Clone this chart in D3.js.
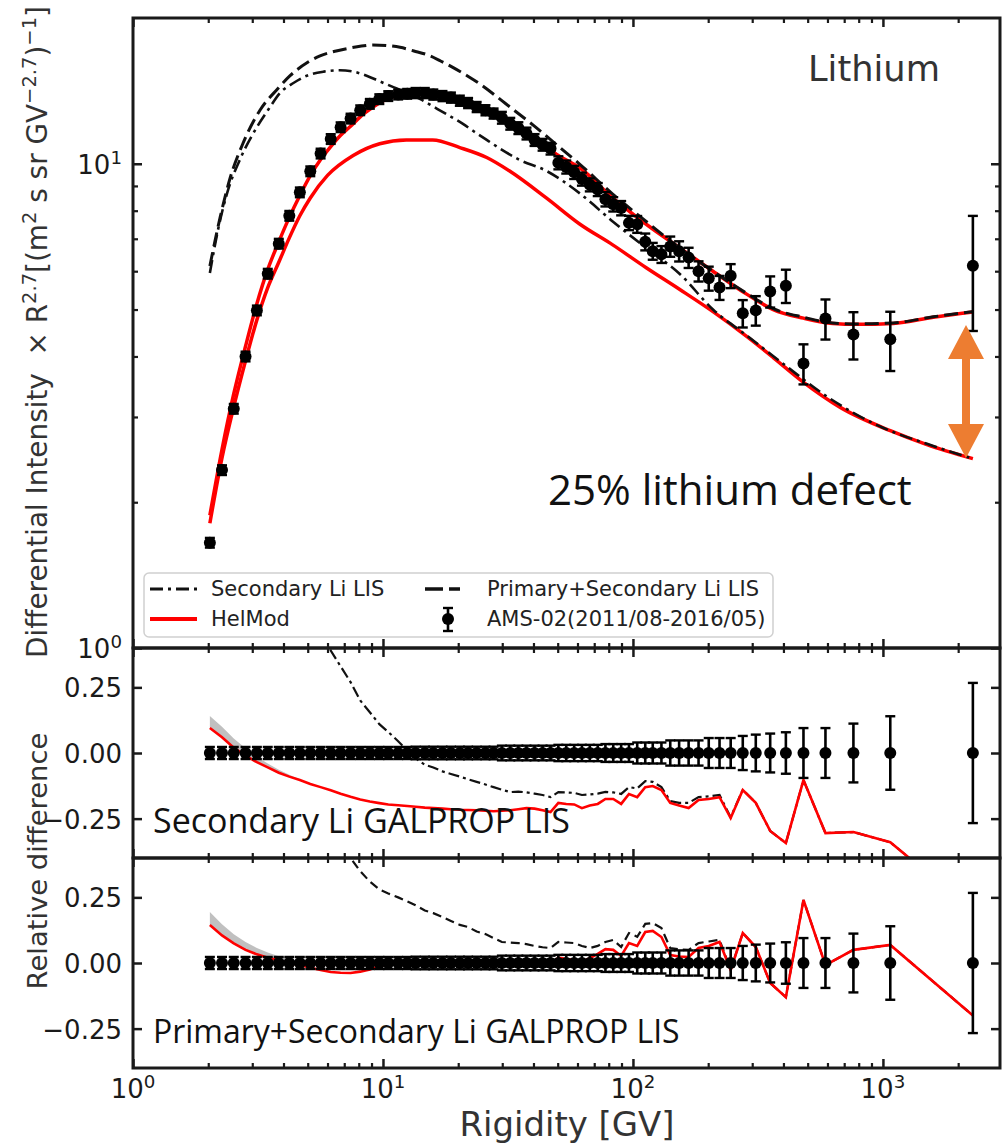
<!DOCTYPE html>
<html>
<head>
<meta charset="utf-8">
<script src="https://cdn.jsdelivr.net/npm/d3@7"></script>
<style>
  body { margin: 0; background: #fff; }
  svg { display: block; }
</style>
</head>
<body>
<svg width="1002" height="1145"></svg>
<script>
// ---- AMS-02 lithium data (bin centres, GV) ----
var rigidity = [2.03, 2.27, 2.53, 2.82, 3.13, 3.46, 3.83, 4.22, 4.65, 5.12,
  5.63, 6.18, 6.77, 7.42, 8.11, 8.86, 9.67, 10.5, 11.5, 12.5,
  13.5, 14.7, 15.9, 17.3, 18.7, 20.3, 21.9, 23.7, 25.7, 27.7,
  29.9, 32.3, 34.8, 37.5, 40.4, 43.5, 46.8, 50.3, 54.1, 58.2,
  62.5, 67.2, 72.3, 77.6, 83.4, 89.7, 96.4, 104, 112, 120,
  130, 141, 153, 167, 183, 201, 222, 246, 275, 310,
  354, 409, 481, 589, 762, 1070, 2290];
var flux = [1.65, 2.33, 3.12, 4.0, 4.98, 5.93, 6.84, 7.81, 8.73, 9.65,
  10.5, 11.25, 11.9, 12.4, 12.9, 13.3, 13.6, 13.8, 13.9, 13.95,
  14.0, 14.0, 13.9, 13.8, 13.7, 13.5, 13.35, 13.1, 12.9, 12.7,
  12.45, 12.1, 11.85, 11.55, 11.2, 10.95, 10.75, 10.05, 9.85, 9.6,
  9.3, 9.05, 8.85, 8.45, 8.25, 8.1, 7.55, 7.5, 6.9, 6.6,
  6.5, 6.75, 6.6, 6.4, 6.0, 5.8, 5.55, 5.87, 4.91, 4.98,
  5.45, 5.6, 3.87, 4.79, 4.44, 4.34, 6.16];
// relative errors
var fluxErr = [0.023, 0.023, 0.023, 0.023, 0.023, 0.023, 0.023, 0.023, 0.023, 0.023,
  0.023, 0.023, 0.023, 0.023, 0.023, 0.023, 0.023, 0.023, 0.023, 0.023,
  0.024, 0.024, 0.024, 0.024, 0.024, 0.024, 0.024, 0.024, 0.024, 0.024,
  0.028, 0.028, 0.028, 0.028, 0.028, 0.028, 0.028, 0.031, 0.031, 0.031,
  0.031, 0.031, 0.031, 0.034, 0.034, 0.034, 0.034, 0.04, 0.04, 0.04,
  0.04, 0.048, 0.048, 0.048, 0.048, 0.057, 0.057, 0.057, 0.065, 0.07,
  0.074, 0.079, 0.095, 0.095, 0.112, 0.14, 0.267];

// ---- model curves, top panel ----
var secLisR = [2.03, 2.2, 2.38, 2.7, 3.13, 3.5, 3.87, 4.4, 4.96, 5.8, 6.7, 7.6, 8.6, 9.7, 11, 12.5,
  14.1, 16, 18, 20.3, 22.9, 26, 29.4, 35, 45, 61.4, 83, 113, 154, 209, 285, 400, 600, 1000, 1500, 2290];
var secLis = [5.95, 7.4, 8.7, 10.3, 11.9, 13.0, 14.0, 14.7, 15.2, 15.5, 15.6, 15.5, 15.2, 14.8, 14.4, 14.0,
  13.6, 13.1, 12.65, 12.2, 11.7, 11.2, 10.75, 10.2, 9.67, 8.68, 7.6, 6.7, 5.92, 5.0, 4.42, 3.86, 3.3, 2.85, 2.64, 2.46];

var totLisR = [2.03, 2.23, 2.44, 2.75, 3.22, 3.8, 4.25, 5.0, 5.6, 6.5, 7.2, 8.2, 9.1, 10.3, 11.7, 13.3,
  15, 17, 19.1, 21.7, 24.5, 31, 40, 50, 61, 83, 113, 154, 209, 285, 364, 481, 630, 790, 1100, 1590, 2290];
var totLis = [6.15, 7.74, 9.3, 11.0, 12.9, 14.3, 15.2, 16.2, 16.7, 17.1, 17.3, 17.5, 17.6, 17.55, 17.4, 17.1,
  16.8, 16.3, 15.8, 15.2, 14.6, 13.3, 12.0, 10.9, 10.0, 8.66, 7.6, 6.7, 6.0, 5.4, 5.02, 4.82, 4.69, 4.67, 4.69, 4.83, 4.95];

var helSecR = [2.03, 2.27, 2.53, 2.82, 3.13, 3.46, 3.83, 4.22, 4.65, 5.12, 6.0, 7.6, 9.7, 12.4, 15.8, 20.3,
  26, 32, 45, 61.4, 83, 113, 154, 209, 285, 364, 477, 675, 1070, 1500, 2290];
var helSec = [1.81, 2.47, 3.15, 3.92, 4.76, 5.55, 6.26, 7.03, 7.81, 8.5, 9.46, 10.4, 11.0, 11.2, 11.2, 10.8,
  10.3, 9.67, 8.5, 7.5, 6.8, 6.1, 5.5, 4.95, 4.4, 3.98, 3.55, 3.14, 2.81, 2.63, 2.46];

var helTotR = [2.03, 2.27, 2.53, 2.82, 3.13, 3.46, 3.83, 4.22, 4.65, 5.12, 5.63, 6.18, 6.77, 7.42, 8.11, 8.86,
  9.67, 10.5, 11.5, 12.5, 13.5, 14.7, 15.9, 17.3, 18.7, 20.3, 23.7, 27.7, 32.3, 37.5, 43.5, 50.3,
  61.4, 83, 113, 154, 209, 285, 364, 481, 630, 790, 1100, 1590, 2290];
var helTot = [1.88, 2.57, 3.35, 4.2, 5.14, 6.05, 6.9, 7.75, 8.6, 9.45, 10.2, 10.85, 11.45, 11.95, 12.5, 12.95,
  13.35, 13.65, 13.85, 13.95, 14.0, 14.0, 13.9, 13.8, 13.65, 13.5, 13.1, 12.65, 12.2, 11.6, 11.0, 10.4,
  9.8, 8.5, 7.5, 6.7, 6.0, 5.38, 5.0, 4.8, 4.68, 4.66, 4.68, 4.82, 4.94];

// ---- relative differences (model - data)/data, at the data rigidities ----
var resHelSec = [0.095, 0.06, 0.02, -0.01, -0.035, -0.055, -0.075, -0.09, -0.103, -0.118,
  -0.13, -0.142, -0.155, -0.167, -0.177, -0.185, -0.191, -0.196, -0.199, -0.202,
  -0.205, -0.208, -0.21, -0.212, -0.214, -0.216, -0.217, -0.218, -0.22, -0.222,
  -0.22, -0.218, -0.214, -0.21, -0.212, -0.218, -0.225, -0.19, -0.194, -0.196,
  -0.21, -0.2, -0.194, -0.175, -0.175, -0.194, -0.156, -0.168, -0.13, -0.126,
  -0.141, -0.19, -0.2, -0.21, -0.179, -0.175, -0.168, -0.248, -0.141, -0.19,
  -0.297, -0.343, -0.103, -0.305, -0.301, -0.34, -0.6];
var resSecLis = [2.6, 2.2, 1.8, 1.5, 1.3, 1.1, 0.95, 0.85, 0.72, 0.62,
  0.52, 0.39, 0.33, 0.27, 0.2, 0.155, 0.11, 0.08, 0.045, 0.01,
  -0.02, -0.045, -0.055, -0.07, -0.08, -0.09, -0.1, -0.11, -0.12, -0.13,
  -0.14, -0.149, -0.147, -0.15, -0.155, -0.16, -0.168, -0.149, -0.15, -0.152,
  -0.16, -0.158, -0.155, -0.148, -0.15, -0.156, -0.13, -0.135, -0.107, -0.11,
  -0.13, -0.183, -0.19, -0.19, -0.168, -0.165, -0.16, -0.245, -0.14, -0.19,
  -0.297, -0.343, -0.103, -0.305, -0.301, -0.34, -0.6];
var resHelTot = [0.145, 0.105, 0.075, 0.05, 0.033, 0.02, 0.01, 0.0, -0.008, -0.018,
  -0.027, -0.034, -0.037, -0.038, -0.033, -0.025, -0.012, -0.005, -0.002, 0.0,
  0.0, 0.002, 0.003, 0.0, -0.003, 0.0, 0.003, 0.002, 0.0, -0.004,
  0.0, 0.004, 0.006, 0.008, 0.004, 0.0, -0.005, 0.02, 0.015, 0.012,
  0.005, 0.018, 0.035, 0.053, 0.05, 0.027, 0.076, 0.065, 0.118, 0.122,
  0.099, 0.03, 0.025, 0.023, 0.057, 0.065, 0.08, -0.027, 0.114, 0.061,
  -0.076, -0.13, 0.24, -0.008, 0.05, 0.069, -0.2];
var resTotLis = [2.7, 2.3, 1.95, 1.6, 1.35, 1.15, 1.0, 0.88, 0.77, 0.66,
  0.56, 0.5, 0.45, 0.40, 0.35, 0.31, 0.28, 0.265, 0.25, 0.235,
  0.22, 0.2, 0.19, 0.175, 0.16, 0.145, 0.137, 0.12, 0.11, 0.095,
  0.08, 0.078, 0.076, 0.072, 0.065, 0.06, 0.057, 0.08, 0.078, 0.076,
  0.065, 0.057, 0.065, 0.08, 0.088, 0.061, 0.114, 0.1, 0.149, 0.152,
  0.133, 0.057, 0.052, 0.05, 0.076, 0.082, 0.088, -0.025, 0.114, 0.061,
  -0.076, -0.13, 0.24, -0.008, 0.05, 0.069, -0.2];

// uncertainty bands of HelMod at low rigidity
var bandR = [2.03, 2.27, 2.53, 2.82, 3.13, 3.46, 3.83, 4.22, 4.65, 5.12];
var midBandLo = [0.095, 0.06, 0.02, -0.01, -0.035, -0.055, -0.075, -0.09, -0.103, -0.118];
var midBandHi = [0.141, 0.1, 0.055, 0.018, -0.014, -0.04, -0.064, -0.083, -0.1, -0.118];
var botBandLo = [0.145, 0.105, 0.075, 0.05, 0.033, 0.02, 0.01, 0.0, -0.008, -0.018];
var botBandHi = [0.194, 0.148, 0.11, 0.08, 0.057, 0.04, 0.026, 0.014, 0.004, -0.015];

// ---- ticks ----
var xMajor = [1, 10, 100, 1000];
var xExp = ["0", "1", "2", "3"];
var yTopMajor = [1, 10];
var yTopExp = ["0", "1"];
var yResTicks = [-0.25, 0, 0.25];
var yResLabels = ["\u22120.25", "0.00", "0.25"];

var svg = d3.select("svg");
var ink = "#1a1a1a";
var font = "DejaVu Sans, sans-serif";

var x = d3.scaleLog().domain([1, 2940]).range([133, 1000]);
var yTop = d3.scaleLog().domain([1, 20]).range([648, 18]);
var yMid = d3.scaleLinear().domain([-0.4, 0.4]).range([858, 648]);
var yBot = d3.scaleLinear().domain([-0.4, 0.4]).range([1068, 858]);

var xMinor = [];
xMajor.forEach(function (d) {
  for (var k = 2; k < 10; k++) if (d * k < 2940) xMinor.push(d * k);
});
var yTopMinor = [2, 3, 4, 5, 6, 7, 8, 9];

var defs = svg.append("defs");
function clip(id, y) {
  defs.append("clipPath").attr("id", id).append("rect")
    .attr("x", 133).attr("y", y.range()[1])
    .attr("width", 867).attr("height", y.range()[0] - y.range()[1]);
}
clip("cTop", yTop); clip("cMid", yMid); clip("cBot", yBot);

function ticks(y, major, minor) {
  var g = svg.append("g");
  function put(axis, tx, ty, vals, len, w) {
    var a = g.append("g").attr("transform", "translate(" + tx + "," + ty + ")")
      .call(axis.tickValues(vals).tickSize(-len).tickFormat(""));
    a.select(".domain").remove();
    a.selectAll("line").attr("stroke", ink).attr("stroke-width", w);
  }
  var y0 = y.range()[0], y1 = y.range()[1];
  put(d3.axisBottom(x), 0, y0, xMajor, 9, 2.5);
  put(d3.axisBottom(x), 0, y0, xMinor, 5, 2.2);
  put(d3.axisTop(x), 0, y1, xMajor, 9, 2.5);
  put(d3.axisTop(x), 0, y1, xMinor, 5, 2.2);
  put(d3.axisLeft(y), 133, 0, major, 9, 2.5);
  put(d3.axisRight(y), 1000, 0, major, 9, 2.5);
  if (minor) {
    put(d3.axisLeft(y), 133, 0, minor, 5, 2.2);
    put(d3.axisRight(y), 1000, 0, minor, 5, 2.2);
  }
}
ticks(yTop, yTopMajor, yTopMinor);
ticks(yMid, yResTicks, null);
ticks(yBot, yResTicks, null);

function lineOf(y, curve) {
  return d3.line().x(function (d) { return x(d[0]); })
    .y(function (d) { return y(d[1]); }).curve(curve || d3.curveLinear);
}
function pairs(a, b) { return a.map(function (v, i) { return [v, b[i]]; }); }

// ---- top panel ----
var gTop = svg.append("g").attr("clip-path", "url(#cTop)");
var smooth = lineOf(yTop, d3.curveMonotoneX);
gTop.append("path").attr("d", smooth(pairs(helSecR, helSec)))
  .attr("fill", "none").attr("stroke", "#ff0000").attr("stroke-width", 3.5);
gTop.append("path").attr("d", smooth(pairs(helTotR, helTot)))
  .attr("fill", "none").attr("stroke", "#ff0000").attr("stroke-width", 3.5);
gTop.append("path").attr("d", smooth(pairs(secLisR, secLis)))
  .attr("fill", "none").attr("stroke", "#111").attr("stroke-width", 2.6)
  .attr("stroke-dasharray", "13,5,3,5");
gTop.append("path").attr("d", smooth(pairs(totLisR, totLis)))
  .attr("fill", "none").attr("stroke", "#111").attr("stroke-width", 3)
  .attr("stroke-dasharray", "14,6");

function points(g, y, val, lo, hi) {
  var p = g.append("g").selectAll("g").data(rigidity).enter().append("g");
  p.append("line").attr("x1", function (d) { return x(d); }).attr("x2", function (d) { return x(d); })
    .attr("y1", function (d, i) { return y(lo(i)); }).attr("y2", function (d, i) { return y(hi(i)); })
    .attr("stroke", "#000").attr("stroke-width", 2.6);
  [lo, hi].forEach(function (f) {
    p.append("line").attr("x1", function (d) { return x(d) - 5; }).attr("x2", function (d) { return x(d) + 5; })
      .attr("y1", function (d, i) { return y(f(i)); }).attr("y2", function (d, i) { return y(f(i)); })
      .attr("stroke", "#000").attr("stroke-width", 2.4);
  });
  p.append("circle").attr("cx", function (d) { return x(d); })
    .attr("cy", function (d, i) { return y(val(i)); }).attr("r", 6).attr("fill", "#000");
}
points(gTop, yTop,
  function (i) { return flux[i]; },
  function (i) { return flux[i] * (1 - fluxErr[i]); },
  function (i) { return flux[i] * (1 + fluxErr[i]); });

// ---- residual panels ----
function residual(id, y, bandLo, bandHi, resLis, lisDash, resHel) {
  var g = svg.append("g").attr("clip-path", "url(#" + id + ")");
  var area = d3.area().x(function (d, i) { return x(bandR[i]); })
    .y0(function (d, i) { return y(bandLo[i]); }).y1(function (d, i) { return y(bandHi[i]); });
  g.append("path").attr("d", area(bandR)).attr("fill", "#c0c0c0");
  var ln = lineOf(y);
  g.append("path").attr("d", ln(pairs(rigidity, resLis)))
    .attr("fill", "none").attr("stroke", "#111").attr("stroke-width", 2.2)
    .attr("stroke-dasharray", lisDash);
  g.append("path").attr("d", ln(pairs(rigidity, resHel)))
    .attr("fill", "none").attr("stroke", "#ff0000").attr("stroke-width", 2.6);
  points(g, y,
    function () { return 0; },
    function (i) { return -fluxErr[i]; },
    function (i) { return fluxErr[i]; });
}
residual("cMid", yMid, midBandLo, midBandHi, resSecLis, "11,4,3,4", resHelSec);
residual("cBot", yBot, botBandLo, botBandHi, resTotLis, "9,5", resHelTot);

// ---- frames ----
[yTop, yMid, yBot].forEach(function (y) {
  svg.append("rect").attr("x", 133).attr("y", y.range()[1])
    .attr("width", 867).attr("height", y.range()[0] - y.range()[1])
    .attr("fill", "none").attr("stroke", ink).attr("stroke-width", 3);
});

// scale a text's font size so it spans the given width
function fit(t, w) {
  var l = t.node().getComputedTextLength();
  t.attr("font-size", +t.attr("font-size") * w / l);
  return t;
}

// ---- tick labels ----
function powLabel(sel, exp) {
  sel.append("tspan").text("10");
  sel.append("tspan").attr("baseline-shift", "super").attr("font-size", "0.7em").text(exp);
}
xMajor.forEach(function (d, i) {
  var t = svg.append("text").attr("x", x(d)).attr("y", 1098).attr("text-anchor", "middle")
    .attr("font-family", font).attr("font-size", 26).attr("fill", ink);
  powLabel(t, xExp[i]);
});
yTopMajor.forEach(function (d, i) {
  var t = svg.append("text").attr("x", 122).attr("y", yTop(d) + 10).attr("text-anchor", "end")
    .attr("font-family", font).attr("font-size", 26).attr("fill", ink);
  powLabel(t, yTopExp[i]);
});
[yMid, yBot].forEach(function (y) {
  yResTicks.forEach(function (d, i) {
    svg.append("text").attr("x", 122).attr("y", y(d) + 10).attr("text-anchor", "end")
      .attr("font-family", font).attr("font-size", 26).attr("fill", ink).text(yResLabels[i]);
  });
});

// ---- axis titles ----
var yl = svg.append("text").attr("transform", "translate(47,332) rotate(-90)")
  .attr("text-anchor", "middle").attr("font-family", font).attr("font-size", 26).attr("fill", "#333");
function sup(t, s) { t.append("tspan").attr("baseline-shift", "super").attr("font-size", "0.7em").text(s); }
yl.append("tspan").text("Differential Intensity\u00a0\u00a0\u00d7 R");
sup(yl, "2.7");
yl.append("tspan").text("[(m");
sup(yl, "2");
yl.append("tspan").text(" s sr GV");
sup(yl, "\u22122.7");
yl.append("tspan").text(")");
sup(yl, "\u22121");
yl.append("tspan").text("]");
fit(yl, 652);

fit(svg.append("text").attr("transform", "translate(47,861) rotate(-90)")
  .attr("text-anchor", "middle").attr("font-family", font).attr("font-size", 26)
  .attr("fill", "#333").text("Relative difference"), 257);
fit(svg.append("text").attr("x", 567).attr("y", 1136).attr("text-anchor", "middle")
  .attr("font-family", font).attr("font-size", 28).attr("fill", "#333").text("Rigidity [GV]"), 215);

// ---- legend ----
var lg = svg.append("g").attr("font-family", font).attr("font-size", 21).attr("fill", "#222");
lg.append("rect").attr("x", 144).attr("y", 573).attr("width", 629).attr("height", 64).attr("rx", 5)
  .attr("fill", "#fff").attr("fill-opacity", 0.85).attr("stroke", "#d0d0d0").attr("stroke-width", 1.5);
lg.append("line").attr("x1", 150).attr("x2", 197).attr("y1", 589).attr("y2", 589)
  .attr("stroke", "#111").attr("stroke-width", 3).attr("stroke-dasharray", "13,5,3,5");
lg.append("text").attr("x", 211).attr("y", 596).text("Secondary Li LIS");
lg.append("line").attr("x1", 425).attr("x2", 460).attr("y1", 589).attr("y2", 589)
  .attr("stroke", "#111").attr("stroke-width", 3.5).attr("stroke-dasharray", "18,6");
lg.append("text").attr("x", 487).attr("y", 596).text("Primary+Secondary Li LIS");
lg.append("line").attr("x1", 150).attr("x2", 197).attr("y1", 619).attr("y2", 619)
  .attr("stroke", "#ff0000").attr("stroke-width", 4);
lg.append("text").attr("x", 211).attr("y", 626).text("HelMod");
lg.append("line").attr("x1", 448).attr("x2", 448).attr("y1", 608).attr("y2", 631)
  .attr("stroke", "#000").attr("stroke-width", 2.6);
[608, 631].forEach(function (yy) {
  lg.append("line").attr("x1", 443).attr("x2", 453).attr("y1", yy).attr("y2", yy)
    .attr("stroke", "#000").attr("stroke-width", 2.4);
});
lg.append("circle").attr("cx", 448).attr("cy", 619).attr("r", 6).attr("fill", "#000");
lg.append("text").attr("x", 487).attr("y", 626).text("AMS-02(2011/08-2016/05)");

// ---- annotations ----
fit(svg.append("text").attr("x", 808).attr("y", 81).attr("font-family", font)
  .attr("font-size", 30).attr("fill", "#333").text("Lithium"), 132);
var ann = "Open Sans, Lato, sans-serif";
fit(svg.append("text").attr("x", 548).attr("y", 505).attr("font-family", ann)
  .attr("font-size", 40).attr("fill", "#111").text("25% lithium defect"), 364);
fit(svg.append("text").attr("x", 153).attr("y", 833).attr("font-family", ann)
  .attr("font-size", 30).attr("fill", "#111").text("Secondary Li GALPROP LIS"), 417);
fit(svg.append("text").attr("x", 153).attr("y", 1043).attr("font-family", ann)
  .attr("font-size", 30).attr("fill", "#111").text("Primary+Secondary Li GALPROP LIS"), 527);

// orange double arrow
var ax = 966, at = 325, ab = 458, hw = 18, hh = 34, sw = 4;
svg.append("polygon").attr("fill", "#ED7D31").attr("points", [
  [ax, at], [ax + hw, at + hh], [ax + sw, at + hh], [ax + sw, ab - hh], [ax + hw, ab - hh],
  [ax, ab], [ax - hw, ab - hh], [ax - sw, ab - hh], [ax - sw, at + hh], [ax - hw, at + hh]
].map(function (p) { return p.join(","); }).join(" "));
</script>
</body>
</html>
